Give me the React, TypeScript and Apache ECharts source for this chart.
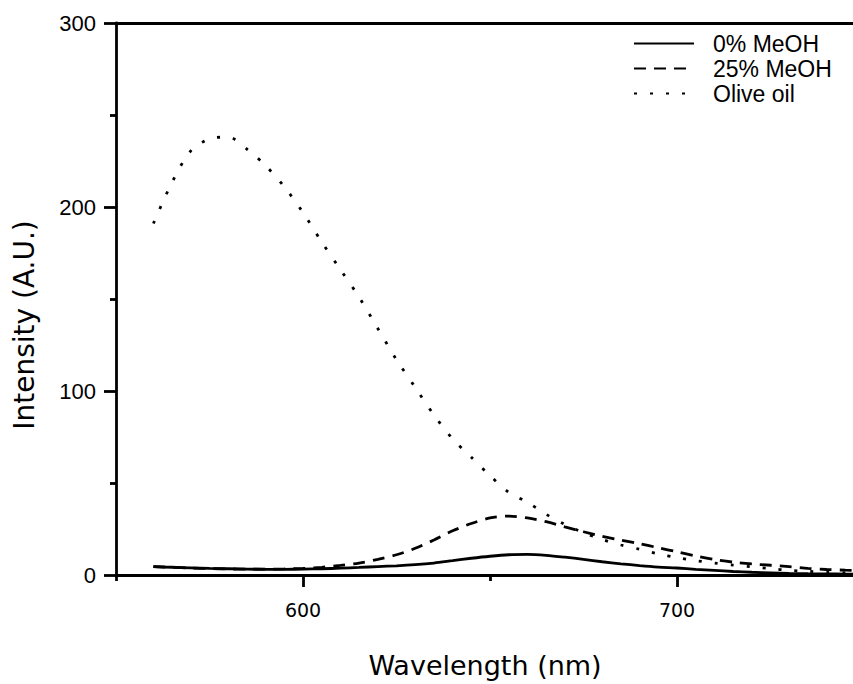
import React, { useEffect, useRef } from "react";
import * as echarts from "echarts";

const wavelengths = [
  560, 565, 570, 575, 580, 585, 590, 595, 600, 605, 610, 615, 620, 625, 630, 635, 640, 645, 650, 655,
  660, 665, 670, 675, 680, 685, 690, 695, 700, 705, 710, 715, 720, 725, 730, 735, 740, 745, 750,
];
const meoh0 = [
  4.5, 4.2, 3.9, 3.6, 3.4, 3.2, 3.1, 3.1, 3.2, 3.4, 3.7, 4.1, 4.6, 5.0, 5.6, 6.5, 7.8, 9.1, 10.2, 11.0,
  11.2, 10.7, 9.7, 8.5, 7.2, 6.1, 5.1, 4.3, 3.8, 3.1, 2.5, 1.9, 1.5, 1.2, 0.9, 0.7, 0.6, 0.5, 0.5,
];
const meoh25 = [
  4.5, 4.2, 3.8, 3.5, 3.3, 3.2, 3.2, 3.3, 3.6, 4.2, 5.2, 6.5, 8.5, 11.0, 14.5, 19.0, 24.0, 28.0, 31.0, 32.0,
  31.0, 29.0, 26.2, 23.5, 21.0, 19.0, 17.0, 14.8, 12.6, 10.3, 8.4, 7.0, 6.0, 5.3, 4.5, 3.6, 3.0, 2.6, 2.3,
];
const oliveOil = [
  191, 213.5, 230.5, 237, 238, 231.5, 222.5, 211, 197, 181, 166, 151, 134, 117, 102, 87, 74, 64, 54, 45,
  39.5, 33, 27.5, 23, 19.3, 16.3, 14, 11.5, 9.5, 7.8, 6.5, 5.4, 4.4, 3.5, 2.5, 2.0, 1.5, 1.2, 1.0,
];
const seriesNames = ["0% MeOH", "25% MeOH", "Olive oil"];
const xMajorTicks = [600, 700];
const xMinorTicks = [550, 650, 750];
const xTitle = "Wavelength (nm)";
const yTitle = "Intensity (A.U.)";

export default function App() {
  const ref = useRef<HTMLDivElement>(null);
  useEffect(() => {
    const chart = echarts.init(ref.current as HTMLDivElement, null, { renderer: "svg" });
    const pair = (ys: number[]) => wavelengths.map((x, i) => [x, ys[i]]);
    const black = "#000";
    const axisLineStyle = { color: black, width: 2.8 };
    const lineSeries = (name: string, ys: number[], type: any) => ({
      name,
      type: "line",
      xAxisIndex: 0,
      yAxisIndex: 0,
      data: pair(ys),
      smooth: 0.3,
      symbol: "none",
      showSymbol: false,
      lineStyle: { color: black, width: 2.8, type },
      itemStyle: { color: black },
    });
    chart.setOption({
      animation: false,
      backgroundColor: "#fff",
      grid: { left: 116, top: 23, right: 16, bottom: 99 },
      legend: {
        orient: "vertical",
        left: 633,
        top: 32,
        padding: 0,
        itemWidth: 60,
        itemHeight: 18,
        itemGap: 2,
        data: seriesNames,
        itemStyle: { color: "rgba(0,0,0,0)", borderWidth: 0, opacity: 0 },
        textStyle: { fontFamily: "Liberation Sans", fontSize: 23, color: black, padding: [0, 0, 0, 14] },
      },
      xAxis: [
        {
          type: "value",
          min: 550,
          max: 750,
          position: "bottom",
          axisLine: { show: true, lineStyle: axisLineStyle },
          axisTick: { show: true, customValues: xMajorTicks, length: 12, lineStyle: axisLineStyle },
          axisLabel: {
            customValues: xMajorTicks,
            margin: 25,
            color: black,
            fontFamily: "DejaVu Sans",
            fontSize: 19,
          },
          splitLine: { show: false },
          name: xTitle,
          nameLocation: "middle",
          nameGap: 77,
          nameTextStyle: { fontFamily: "DejaVu Sans", fontSize: 27, color: black, padding: [0, 10, 0, 0] },
        },
        {
          type: "value",
          min: 550,
          max: 750,
          position: "bottom",
          axisLine: { show: false },
          axisTick: { show: true, customValues: xMinorTicks, length: 6, lineStyle: axisLineStyle },
          axisLabel: { show: false },
          splitLine: { show: false },
        },
        {
          type: "value",
          min: 550,
          max: 750,
          position: "top",
          axisLine: { show: true, lineStyle: axisLineStyle },
          axisTick: { show: false },
          axisLabel: { show: false },
          splitLine: { show: false },
        },
      ],
      yAxis: {
        type: "value",
        min: 0,
        max: 300,
        interval: 100,
        axisLine: { show: true, lineStyle: axisLineStyle },
        axisTick: { show: true, length: 12, lineStyle: axisLineStyle },
        minorTick: { show: true, splitNumber: 2, length: 6, lineStyle: axisLineStyle },
        axisLabel: { margin: 20, color: black, fontFamily: "Liberation Sans", fontSize: 22 },
        splitLine: { show: false },
        minorSplitLine: { show: false },
        name: yTitle,
        nameLocation: "middle",
        nameGap: 78,
        nameTextStyle: { fontFamily: "DejaVu Sans", fontSize: 28, color: black, padding: [0, 52, 0, 0] },
      },
      series: [
        lineSeries(seriesNames[0], meoh0, "solid"),
        lineSeries(seriesNames[1], meoh25, [12, 8]),
        lineSeries(seriesNames[2], oliveOil, [3, 13]),
      ],
    });
    return () => chart.dispose();
  }, []);
  return (
    <div
      style={{
        position: "fixed",
        left: 0,
        top: 0,
        width: 853,
        height: 684,
        overflow: "hidden",
        background: "#fff",
      }}
    >
      <div ref={ref} style={{ width: 880, height: 684 }} />
    </div>
  );
}
